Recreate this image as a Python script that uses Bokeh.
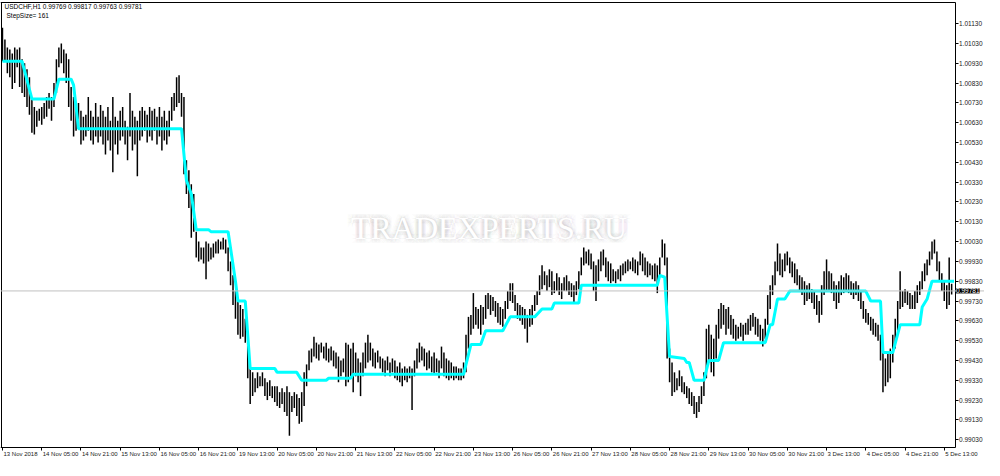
from bokeh.plotting import figure
from bokeh.models import (Range1d, FixedTicker, PrintfTickFormatter, Label, LabelSet, Span,
                          ColumnDataSource, LinearAxis)
from bokeh.core.properties import value
from bokeh.embed import file_html
from bokeh.resources import INLINE

# ---------------- data (USDCHF H1) ----------------
bar_high = [
    1.0111, 1.0105, 1.0101, 1.0100, 1.0098, 1.0101, 1.0100, 1.0101, 1.0095, 1.0093,
    1.0090, 1.0086, 1.0076, 1.0071, 1.0069, 1.0070, 1.0071, 1.0073, 1.0076, 1.0078,
    1.0076, 1.0083, 1.0095, 1.0101, 1.0103, 1.0100, 1.0098, 1.0095, 1.0081, 1.0076,
    1.0071, 1.0073, 1.0069, 1.0066, 1.0067, 1.0076, 1.0069, 1.0066, 1.0073, 1.0066,
    1.0072, 1.0069, 1.0066, 1.0071, 1.0064, 1.0076, 1.0066, 1.0064, 1.0069, 1.0071,
    1.0064, 1.0061, 1.0078, 1.0069, 1.0066, 1.0064, 1.0069, 1.0071, 1.0069, 1.0067,
    1.0071, 1.0069, 1.0070, 1.0066, 1.0071, 1.0066, 1.0069, 1.0064, 1.0069, 1.0076,
    1.0078, 1.0086, 1.0087, 1.0078, 1.0076, 1.0044, 1.0039, 1.0032, 1.0027, 1.0008,
    1.0003, 1.0000, 1.0000, 1.0003, 1.0002, 1.0000, 1.0002, 1.0003, 1.0004, 1.0003,
    1.0005, 1.0004, 1.0000, 0.9993, 0.9986, 0.9978, 0.9973, 0.9971, 0.9969, 0.9964,
    0.9952, 0.9939, 0.9937, 0.9934, 0.9937, 0.9935, 0.9937, 0.9934, 0.9932, 0.9933,
    0.9930, 0.9930, 0.9930, 0.9927, 0.9929, 0.9927, 0.9930, 0.9927, 0.9925, 0.9927,
    0.9926, 0.9924, 0.9927, 0.9937, 0.9941, 0.9948, 0.9949, 0.9955, 0.9952, 0.9951,
    0.9952, 0.9950, 0.9952, 0.9949, 0.9950, 0.9948, 0.9947, 0.9945, 0.9943, 0.9944,
    0.9952, 0.9951, 0.9949, 0.9952, 0.9947, 0.9944, 0.9942, 0.9947, 0.9952, 0.9956,
    0.9952, 0.9949, 0.9947, 0.9948, 0.9945, 0.9944, 0.9943, 0.9945, 0.9942, 0.9944,
    0.9943, 0.9940, 0.9942, 0.9939, 0.9940, 0.9939, 0.9940, 0.9939, 0.9943, 0.9949,
    0.9952, 0.9950, 0.9949, 0.9947, 0.9948, 0.9945, 0.9947, 0.9944, 0.9943, 0.9950,
    0.9947, 0.9944, 0.9943, 0.9942, 0.9940, 0.9940, 0.9939, 0.9939, 0.9942, 0.9956,
    0.9965, 0.9966, 0.9977, 0.9970, 0.9969, 0.9971, 0.9970, 0.9976, 0.9977, 0.9976,
    0.9975, 0.9973, 0.9972, 0.9970, 0.9969, 0.9973, 0.9978, 0.9982, 0.9982, 0.9976,
    0.9972, 0.9971, 0.9970, 0.9969, 0.9966, 0.9969, 0.9971, 0.9976, 0.9978, 0.9986,
    0.9991, 0.9988, 0.9986, 0.9989, 0.9988, 0.9983, 0.9987, 0.9985, 0.9982, 0.9985,
    0.9986, 0.9983, 0.9982, 0.9981, 0.9983, 0.9988, 0.9995, 1.0000, 0.9998, 0.9999,
    0.9997, 0.9993, 0.9991, 0.9994, 0.9998, 0.9999, 0.9995, 0.9993, 0.9992, 0.9989,
    0.9988, 0.9989, 0.9991, 0.9992, 0.9993, 0.9994, 0.9993, 0.9995, 0.9994, 0.9993,
    0.9998, 0.9997, 0.9995, 0.9993, 0.9992, 0.9991, 0.9992, 0.9991, 0.9995, 1.0004,
    1.0002, 0.9995, 0.9949, 0.9942, 0.9937, 0.9934, 0.9938, 0.9935, 0.9932, 0.9930,
    0.9929, 0.9927, 0.9925, 0.9922, 0.9925, 0.9930, 0.9937, 0.9959, 0.9961, 0.9956,
    0.9954, 0.9961, 0.9969, 0.9972, 0.9971, 0.9969, 0.9970, 0.9966, 0.9964, 0.9961,
    0.9960, 0.9962, 0.9961, 0.9962, 0.9964, 0.9966, 0.9967, 0.9965, 0.9964, 0.9961,
    0.9959, 0.9964, 0.9976, 0.9981, 0.9986, 0.9993, 1.0002, 0.9997, 0.9994, 0.9997,
    0.9998, 0.9995, 0.9993, 0.9992, 0.9989, 0.9986, 0.9985, 0.9983, 0.9981, 0.9982,
    0.9979, 0.9978, 0.9976, 0.9973, 0.9981, 0.9988, 0.9994, 0.9988, 0.9987, 0.9983,
    0.9981, 0.9983, 0.9986, 0.9985, 0.9987, 0.9986, 0.9983, 0.9982, 0.9983, 0.9981,
    0.9978, 0.9973, 0.9969, 0.9967, 0.9965, 0.9964, 0.9962, 0.9961, 0.9956, 0.9947,
    0.9944, 0.9947, 0.9949, 0.9956, 0.9964, 0.9973, 0.9988, 0.9978, 0.9979, 0.9978,
    0.9977, 0.9976, 0.9978, 0.9981, 0.9983, 0.9988, 0.9992, 0.9994, 0.9998, 1.0003,
    1.0004, 0.9998, 0.9993, 0.9987, 0.9983, 0.9981, 0.9995, 0.99817,
]
bar_low = [
    1.0094, 1.0094, 1.0088, 1.0086, 1.0080, 1.0083, 1.0091, 1.0081, 1.0078, 1.0076,
    1.0071, 1.0067, 1.0058, 1.0057, 1.0061, 1.0064, 1.0062, 1.0065, 1.0066, 1.0070,
    1.0064, 1.0071, 1.0078, 1.0091, 1.0093, 1.0088, 1.0083, 1.0071, 1.0064, 1.0056,
    1.0059, 1.0061, 1.0052, 1.0054, 1.0056, 1.0059, 1.0054, 1.0052, 1.0056, 1.0053,
    1.0056, 1.0052, 1.0047, 1.0054, 1.0049, 1.0038, 1.0052, 1.0047, 1.0054, 1.0056,
    1.0052, 1.0044, 1.0056, 1.0049, 1.0052, 1.0036, 1.0054, 1.0056, 1.0059, 1.0053,
    1.0056, 1.0054, 1.0059, 1.0052, 1.0056, 1.0049, 1.0054, 1.0052, 1.0056, 1.0064,
    1.0069, 1.0071, 1.0073, 1.0066, 1.0037, 1.0027, 1.0020, 1.0005, 1.0008, 0.9995,
    0.9993, 0.9994, 0.9992, 0.9984, 0.9993, 0.9994, 0.9995, 0.9997, 0.9997, 0.9999,
    0.9999, 0.9997, 0.9988, 0.9981, 0.9971, 0.9964, 0.9956, 0.9954, 0.9955, 0.9952,
    0.9934, 0.9921, 0.9925, 0.9927, 0.9929, 0.9930, 0.9930, 0.9925, 0.9923, 0.9925,
    0.9924, 0.9922, 0.9920, 0.9919, 0.9921, 0.9917, 0.9915, 0.9905, 0.9917, 0.9919,
    0.9915, 0.9911, 0.9912, 0.9920, 0.9930, 0.9938, 0.9942, 0.9945, 0.9944, 0.9943,
    0.9947, 0.9944, 0.9943, 0.9942, 0.9943, 0.9940, 0.9939, 0.9932, 0.9935, 0.9937,
    0.9930, 0.9932, 0.9935, 0.9927, 0.9935, 0.9932, 0.9925, 0.9935, 0.9939, 0.9942,
    0.9943, 0.9940, 0.9939, 0.9942, 0.9939, 0.9937, 0.9935, 0.9938, 0.9935, 0.9937,
    0.9934, 0.9933, 0.9932, 0.9930, 0.9933, 0.9932, 0.9934, 0.9918, 0.9935, 0.9939,
    0.9942, 0.9943, 0.9940, 0.9938, 0.9939, 0.9937, 0.9936, 0.9937, 0.9934, 0.9939,
    0.9935, 0.9934, 0.9933, 0.9934, 0.9933, 0.9934, 0.9933, 0.9933, 0.9934, 0.9937,
    0.9949, 0.9956, 0.9959, 0.9961, 0.9959, 0.9956, 0.9961, 0.9964, 0.9969, 0.9966,
    0.9968, 0.9965, 0.9962, 0.9961, 0.9960, 0.9964, 0.9969, 0.9973, 0.9972, 0.9968,
    0.9964, 0.9963, 0.9961, 0.9959, 0.9952, 0.9960, 0.9961, 0.9968, 0.9971, 0.9976,
    0.9979, 0.9981, 0.9978, 0.9980, 0.9976, 0.9977, 0.9978, 0.9976, 0.9974, 0.9978,
    0.9978, 0.9976, 0.9975, 0.9972, 0.9976, 0.9979, 0.9986, 0.9991, 0.9992, 0.9991,
    0.9989, 0.9978, 0.9973, 0.9983, 0.9988, 0.9991, 0.9985, 0.9983, 0.9982, 0.9983,
    0.9982, 0.9984, 0.9983, 0.9986, 0.9987, 0.9988, 0.9989, 0.9988, 0.9987, 0.9986,
    0.9991, 0.9988, 0.9986, 0.9985, 0.9986, 0.9984, 0.9983, 0.9977, 0.9986, 0.9995,
    0.9991, 0.9944, 0.9932, 0.9925, 0.9927, 0.9928, 0.9930, 0.9927, 0.9926, 0.9924,
    0.9921, 0.9920, 0.9916, 0.9914, 0.9917, 0.9921, 0.9925, 0.9934, 0.9942, 0.9937,
    0.9935, 0.9944, 0.9954, 0.9959, 0.9961, 0.9956, 0.9959, 0.9956, 0.9954, 0.9953,
    0.9954, 0.9955, 0.9953, 0.9956, 0.9956, 0.9958, 0.9960, 0.9956, 0.9955, 0.9953,
    0.9950, 0.9954, 0.9961, 0.9969, 0.9976, 0.9981, 0.9988, 0.9986, 0.9985, 0.9988,
    0.9991, 0.9987, 0.9985, 0.9982, 0.9981, 0.9978, 0.9976, 0.9971, 0.9973, 0.9974,
    0.9972, 0.9969, 0.9966, 0.9962, 0.9966, 0.9976, 0.9978, 0.9978, 0.9977, 0.9973,
    0.9969, 0.9972, 0.9976, 0.9977, 0.9978, 0.9977, 0.9976, 0.9974, 0.9976, 0.9973,
    0.9969, 0.9964, 0.9962, 0.9961, 0.9958, 0.9956, 0.9955, 0.9953, 0.9943, 0.9927,
    0.9930, 0.9932, 0.9934, 0.9942, 0.9949, 0.9956, 0.9969, 0.9970, 0.9972, 0.9971,
    0.9969, 0.9969, 0.9969, 0.9972, 0.9976, 0.9979, 0.9983, 0.9986, 0.9991, 0.9994,
    0.9997, 0.9988, 0.9983, 0.9978, 0.9973, 0.9969, 0.9971, 0.99763,
]

# StepSize indicator (vertices: bar number, level)
step_bar = [0, 8, 12, 21, 23, 28, 29, 31, 73, 74, 75, 77, 79, 84, 85, 92, 95, 96, 99, 101,
            111, 112, 120, 122, 132, 133, 142, 143, 188, 189, 191, 195, 197, 204, 207, 217,
            220, 224, 225, 235, 236, 267, 268, 270, 272, 278, 279, 280, 282, 286, 288, 292,
            294, 311, 313, 314, 316, 319, 321, 352, 354, 358, 359, 363, 366, 374, 375, 377,
            379, 388]
step_level = [1.0094, 1.0094, 1.0075, 1.0075, 1.0085, 1.0085, 1.0082, 1.0060, 1.0060, 1.0047,
              1.0034, 1.0027, 1.0009, 1.0009, 1.0008, 1.0008, 0.9983, 0.9973, 0.9973, 0.9939,
              0.9939, 0.9937, 0.9937, 0.9933, 0.9933, 0.9934, 0.9934, 0.9936, 0.9936, 0.9941,
              0.9951, 0.9951, 0.9958, 0.9958, 0.9965, 0.9965, 0.9969, 0.9969, 0.9972, 0.9972,
              0.9981, 0.9981, 0.9986, 0.9985, 0.9945, 0.9944, 0.9942, 0.9942, 0.9933, 0.9933,
              0.9943, 0.9943, 0.9952, 0.9952, 0.9961, 0.9961, 0.9974, 0.9974, 0.9978, 0.9978,
              0.9973, 0.9973, 0.9947, 0.9947, 0.9961, 0.9961, 0.9970, 0.9974, 0.9983, 0.9983]

y_ticks = [0.99030, 0.99130, 0.99230, 0.99330, 0.99430, 0.99530, 0.99630, 0.99730,
           0.99830, 0.99930, 1.00030, 1.00130, 1.00230, 1.00330, 1.00430, 1.00530,
           1.00630, 1.00730, 1.00830, 1.00930, 1.01030, 1.01130]
x_tick_bars = [0, 16, 32, 48, 64, 80, 96, 112, 128, 144, 160, 176, 192, 208, 224, 240,
               256, 272, 288, 304, 320, 336, 352, 368, 384]
x_tick_labels = ["13 Nov 2018", "14 Nov 05:00", "14 Nov 21:00", "15 Nov 13:00", "16 Nov 05:00",
                 "16 Nov 21:00", "19 Nov 13:00", "20 Nov 05:00", "20 Nov 21:00", "21 Nov 13:00",
                 "22 Nov 05:00", "22 Nov 21:00", "23 Nov 13:00", "26 Nov 05:00", "26 Nov 21:00",
                 "27 Nov 13:00", "28 Nov 05:00", "28 Nov 21:00", "29 Nov 13:00", "30 Nov 05:00",
                 "30 Nov 21:00", "3 Dec 13:00", "4 Dec 05:00", "4 Dec 21:00", "5 Dec 13:00"]
last_price = 0.99781
header_line1 = "USDCHF,H1  0.99769 0.99817 0.99763 0.99781"
header_line2 = "StepSize= 161"
watermark = "TRADEXPERTS.RU"

# ---------------- layout constants (chart window geometry) ----------------
X_LEFT, X_RIGHT = -0.8, 400.4        # whole window, bar units
Y_BOTTOM, Y_TOP = 0.98925, 1.01247   # whole window, price units
X_PRICE_AXIS = 388.4                 # right price scale line
Y_TIME_AXIS = 0.98993                # bottom time scale line
Y_FRAME_TOP = 1.01237
X_FRAME_LEFT = -0.4

FONT = "Liberation Sans"

p = figure(width=984, height=460, output_backend="svg", toolbar_location=None,
           x_range=Range1d(X_LEFT, X_RIGHT), y_range=Range1d(Y_BOTTOM, Y_TOP),
           y_axis_location="right", min_border=0, min_border_left=0, min_border_right=0,
           min_border_top=0, min_border_bottom=0)
p.background_fill_color = "white"
p.border_fill_color = "white"
p.outline_line_color = None
p.xgrid.visible = False
p.ygrid.visible = False

# price scale
ya = p.yaxis[0]
ya.fixed_location = X_PRICE_AXIS
ya.bounds = (Y_TIME_AXIS, Y_FRAME_TOP)
ya.ticker = FixedTicker(ticks=y_ticks)
ya.formatter = PrintfTickFormatter(format="%.5f")
ya.axis_line_color = "black"
ya.major_tick_line_color = "black"
ya.major_tick_out = 3
ya.major_tick_in = 0
ya.minor_tick_line_color = None
ya.major_label_text_font = FONT
ya.major_label_text_font_size = "6.5px"
ya.major_label_text_color = "#202020"
ya.major_label_standoff = 1

# time scale (ticks only, labels drawn left-aligned below)
xa = p.xaxis[0]
xa.fixed_location = Y_TIME_AXIS
xa.bounds = (X_LEFT, X_PRICE_AXIS)
xa.ticker = FixedTicker(ticks=x_tick_bars)
xa.major_label_overrides = {t: "" for t in x_tick_bars}
xa.axis_line_color = "black"
xa.major_tick_line_color = "black"
xa.major_tick_out = 3
xa.major_tick_in = 0
xa.minor_tick_line_color = None

# top and left window borders
top_ax = LinearAxis(fixed_location=Y_FRAME_TOP, bounds=(X_LEFT, X_PRICE_AXIS),
                    ticker=FixedTicker(ticks=[]), major_tick_line_color=None,
                    minor_tick_line_color=None, axis_line_color="black")
p.add_layout(top_ax, "above")
left_ax = LinearAxis(fixed_location=X_FRAME_LEFT, bounds=(Y_TIME_AXIS, Y_FRAME_TOP),
                     ticker=FixedTicker(ticks=[]), major_tick_line_color=None,
                     minor_tick_line_color=None, axis_line_color="black")
p.add_layout(left_ax, "left")

# watermark with soft glow
wx, wy = 198.4, 1.0010
gx, gy, gdx, gdy = [], [], [], []
for r in (1, 2, 3, 4):
    for dx, dy in ((1, 0), (-1, 0), (0, 1), (0, -1), (1, 1), (1, -1), (-1, 1), (-1, -1)):
        gx.append(wx)
        gy.append(wy)
        gdx.append(dx * r)
        gdy.append(dy * r)
glow = ColumnDataSource(dict(x=gx, y=gy, dx=gdx, dy=gdy, t=[watermark] * len(gx)))
p.text(x="x", y="y", text="t", x_offset="dx", y_offset="dy", source=glow,
       text_font=value("Liberation Serif"), text_font_size="32px",
       text_align="center", text_baseline="middle", text_color="#a0a0a0", text_alpha=0.045)
p.text(x=[wx], y=[wy], text=[watermark], text_font=value("Liberation Serif"),
       text_font_size="32px", text_align="center", text_baseline="middle", text_color="white")

# current price line
p.add_layout(Span(location=last_price, dimension="width", line_color="#c0c0c0", line_width=1))

# OHLC bars (high-low)
bars = ColumnDataSource(dict(i=list(range(len(bar_high))), hi=bar_high, lo=bar_low))
p.segment(x0="i", y0="lo", x1="i", y1="hi", source=bars, line_color="black", line_width=1.5)

# StepSize line
p.line(step_bar, step_level, line_color="#00FFFF", line_width=3)

# header texts
p.add_layout(Label(x=X_LEFT, y=Y_TOP, x_offset=4, y_offset=-2, text=header_line1,
                   text_baseline="top", text_font=FONT, text_font_size="6.5px", text_color="black"))
p.add_layout(Label(x=X_LEFT, y=Y_TOP, x_offset=6, y_offset=-11, text=header_line2,
                   text_baseline="top", text_font=FONT, text_font_size="6.5px", text_color="black"))

# price box on the price scale
p.add_layout(Label(x=X_PRICE_AXIS, y=last_price, x_offset=1, text=f"{last_price:.5f}",
                   text_baseline="middle", text_align="left", text_font=FONT,
                   text_font_size="6.5px", text_color="white", background_fill_color="black"))

# time labels, left aligned at their ticks
tl = ColumnDataSource(dict(x=x_tick_bars, y=[Y_TIME_AXIS] * len(x_tick_bars), t=x_tick_labels))
p.add_layout(LabelSet(x="x", y="y", text="t", source=tl, x_offset=1, y_offset=-4,
                      text_align="left", text_baseline="top", text_font=value(FONT),
                      text_font_size="6px", text_color="#202020"))

open("out.html", "w").write(file_html(p, INLINE))
